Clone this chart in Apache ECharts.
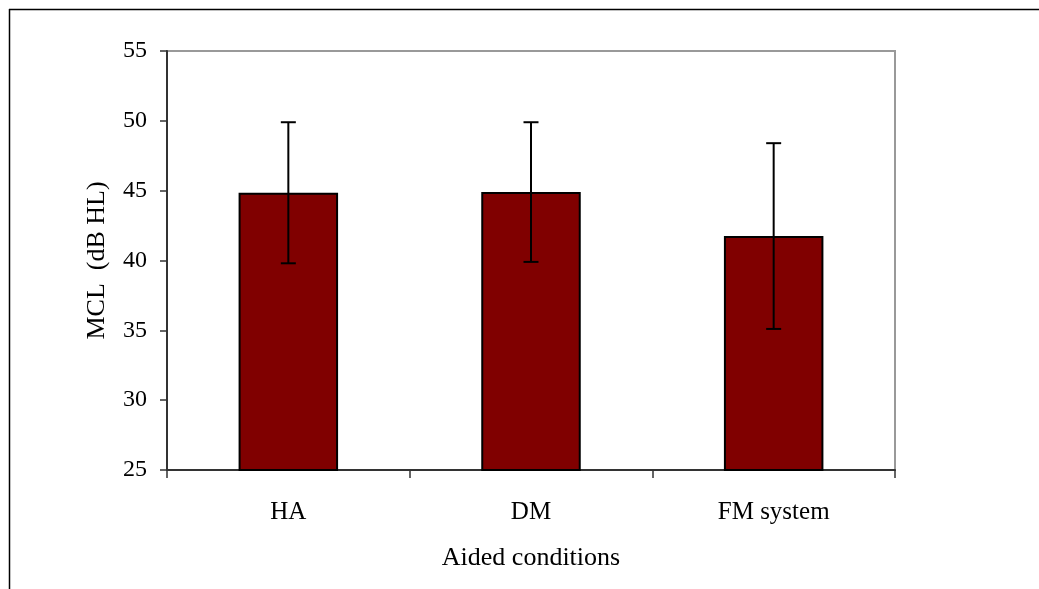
<!DOCTYPE html>
<html><head><meta charset="utf-8">
<script src="https://cdn.jsdelivr.net/npm/echarts@6/dist/echarts.min.js"></script>
<style>html,body{margin:0;padding:0;background:#fff}#c{width:1039px;height:589px}</style>
</head><body><div id="c"></div>
<script>
const categories = ['HA', 'DM', 'FM system'];
const means = [44.85, 44.9, 41.75];
const errUpper = [49.9, 49.9, 48.4];
const errLower = [39.8, 39.9, 35.1];
const yTicks = [25, 30, 35, 40, 45, 50, 55];

const chart = echarts.init(document.getElementById('c'), null, {renderer: 'canvas'});
const font = '"Liberation Serif", "Times New Roman", serif';
chart.setOption({
  animation: false,
  backgroundColor: '#fff',
  graphic: [
    {type: 'line', shape: {x1: 9, y1: 9.5, x2: 1039, y2: 9.5}, style: {stroke: '#000', lineWidth: 1.5}},
    {type: 'line', shape: {x1: 9.5, y1: 9, x2: 9.5, y2: 589}, style: {stroke: '#000', lineWidth: 1.5}}
  ],
  grid: {left: 167, top: 51, right: 144, bottom: 119, show: true, borderColor: '#999', borderWidth: 2, backgroundColor: '#fff'},
  xAxis: {
    type: 'category', data: categories,
    name: 'Aided conditions', nameLocation: 'middle', nameGap: 75,
    nameTextStyle: {fontFamily: font, fontSize: 26, color: '#000'},
    axisLine: {lineStyle: {color: '#333', width: 2}},
    axisTick: {show: true, length: 8, lineStyle: {color: '#333', width: 1.5}},
    axisLabel: {fontFamily: font, fontSize: 25, color: '#000', margin: 30},
    splitLine: {show: false}
  },
  yAxis: {
    type: 'value', min: 25, max: 55, interval: 5,
    name: 'MCL  (dB HL)', nameLocation: 'middle', nameGap: 57,
    nameTextStyle: {fontFamily: font, fontSize: 26, color: '#000'},
    axisLine: {show: true, lineStyle: {color: '#333', width: 2}},
    axisTick: {show: true, length: 7, lineStyle: {color: '#333', width: 1.5}},
    axisLabel: {fontFamily: font, fontSize: 24, color: '#000', margin: 20, padding: [4, 0, 0, 0],
      formatter: v => yTicks.includes(v) ? String(v) : ''},
    splitLine: {show: false}
  },
  series: [
    {
      type: 'bar', data: means, barWidth: '41%',
      itemStyle: {color: '#800000', borderColor: '#000', borderWidth: 2},
      z: 2
    },
    {
      type: 'custom', z: 3,
      data: categories.map((c, i) => [i, errLower[i], errUpper[i]]),
      renderItem: function (params, api) {
        const x = api.value(0);
        const lo = api.coord([x, api.value(1)]);
        const hi = api.coord([x, api.value(2)]);
        const cap = 7.5;
        const st = {stroke: '#000', lineWidth: 2};
        return {type: 'group', children: [
          {type: 'line', shape: {x1: hi[0], y1: hi[1], x2: lo[0], y2: lo[1]}, style: st},
          {type: 'line', shape: {x1: hi[0] - cap, y1: hi[1], x2: hi[0] + cap, y2: hi[1]}, style: st},
          {type: 'line', shape: {x1: lo[0] - cap, y1: lo[1], x2: lo[0] + cap, y2: lo[1]}, style: st}
        ]};
      }
    }
  ]
});
</script></body></html>
